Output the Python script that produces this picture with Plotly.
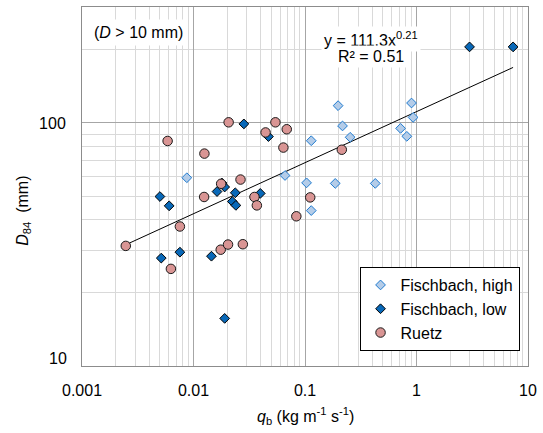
import plotly.graph_objects as go

# ---- data ----
fh_x = [0.00871, 0.0662, 0.1033, 0.1138, 0.1867, 0.4266, 0.1138, 0.198, 0.217, 0.254, 0.902, 0.932, 0.720, 0.819]
fh_y = [59.5, 60.8, 56.7, 43.6, 56.4, 56.4, 84.5, 117.8, 97.2, 87.3, 120.8, 105.4, 95.0, 88.1]

fl_x = [2.99, 7.35, 0.0283, 0.0470, 0.0050, 0.00605, 0.00755, 0.00514, 0.01449, 0.01904,
        0.01626, 0.01904, 0.0180, 0.0237, 0.0223, 0.0240, 0.0397]
fl_y = [205.6, 205.6, 99.1, 87.9, 49.8, 45.6, 29.4, 27.8, 28.3, 15.7,
        52.2, 54.5, 56.6, 51.6, 47.5, 45.8, 51.3]

ru_x = [0.00247, 0.00627, 0.00755, 0.00586, 0.01253, 0.01245, 0.0177, 0.0264, 0.01754, 0.0204,
        0.0277, 0.02066, 0.0543, 0.0443, 0.0686, 0.0640, 0.0352, 0.0370, 0.0836, 0.1114, 0.2138]
ru_y = [31.2, 25.1, 37.5, 84.3, 74.8, 49.6, 56.2, 58.5, 30.1, 31.6,
        31.7, 100.6, 100.6, 91.4, 94.2, 79.2, 49.6, 45.8, 41.3, 49.4, 77.6]

# power-law trend line y = a * x^b (from the chart's equation)
trend_a = 111.3
trend_b = 0.21

x_ticks = [0.001, 0.01, 0.1, 1, 10]
x_ticktext = ["0.001", "0.01", "0.1", "1", "10"]
y_ticks = [10, 100]
y_ticktext = ["10", "100"]

FONT = "Arial, 'Liberation Sans', sans-serif"
FS = 16

all_x = fh_x + fl_x + ru_x
tx = [min(all_x), max(all_x)]
ty = [trend_a * v ** trend_b for v in tx]

fig = go.Figure()
fig.add_trace(go.Scatter(x=tx, y=ty, mode="lines", line=dict(color="black", width=1),
                         showlegend=False, hoverinfo="skip"))
fig.add_trace(go.Scatter(x=fh_x, y=fh_y, mode="markers", name="Fischbach, high",
                         marker=dict(symbol="diamond", size=7.5, color="#B4CCE8",
                                     line=dict(color="#1F7BD0", width=1))))
fig.add_trace(go.Scatter(x=fl_x, y=fl_y, mode="markers", name="Fischbach, low",
                         marker=dict(symbol="diamond", size=7.5, color="#0868B8",
                                     line=dict(color="black", width=1))))
fig.add_trace(go.Scatter(x=ru_x, y=ru_y, mode="markers", name="Ruetz",
                         marker=dict(symbol="circle", size=9.5, color="#D99594",
                                     line=dict(color="#1a1a1a", width=1))))

axis_common = dict(
    type="log", showline=True, linecolor="#8C8C8C", linewidth=1, mirror=True,
    showgrid=True, gridcolor="#A6A6A6", gridwidth=1, zeroline=False,
    ticks="", tickfont=dict(family=FONT, size=FS, color="black"),
    minor=dict(showgrid=True, gridcolor="#D9D9D9", gridwidth=1, dtick="D1"),
)

# y tick labels: "100" as a normal tick label, "10" placed slightly above its gridline as in the reference
y_axis_text = [t if v != min(y_ticks) else "" for v, t in zip(y_ticks, y_ticktext)]

fig.update_xaxes(range=[-3, 1], tickmode="array", tickvals=x_ticks, ticktext=x_ticktext,
                 ticklabelstandoff=10, **axis_common)
fig.update_yaxes(range=[1, 2.4771], tickmode="array", tickvals=y_ticks, ticktext=y_axis_text,
                 ticklabelstandoff=12, **axis_common)

W, H = 543, 433
L, R, T, B = 82, 13, 6, 67
pw, ph = W - L - R, H - T - B

def px(x):
    return (x - L) / pw

def py(y):
    return (H - B - y) / ph

annos = [
    dict(text="(<i>D</i> &gt; 10 mm)", x=px(139), y=py(31.5), bgcolor="white", borderpad=4),
    dict(text="y = 111.3x<sup>0.21</sup>", x=px(372), y=py(38), bgcolor="white", borderpad=2),
    dict(text="R² = 0.51", x=px(372), y=py(56), bgcolor="white", borderpad=2),
]
for a in annos:
    fig.add_annotation(xref="paper", yref="paper", xanchor="center", yanchor="middle",
                       showarrow=False, font=dict(family=FONT, size=FS, color="black"), **a)

# lowest y tick label
import math
fig.add_annotation(xref="paper", yref="y", x=px(69), y=math.log10(min(y_ticks)), yshift=8,
                   xanchor="right", yanchor="middle", showarrow=False,
                   font=dict(family=FONT, size=FS, color="black"),
                   text=y_ticktext[y_ticks.index(min(y_ticks))])

fig.add_annotation(xref="paper", yref="paper", x=px(307), y=py(416), xanchor="center", yanchor="middle",
                   showarrow=False, font=dict(family=FONT, size=FS, color="black"),
                   text="<i>q</i><sub>b</sub> (kg m<sup>-1</sup> s<sup>-1</sup>)")
fig.add_annotation(xref="paper", yref="paper", x=px(23), y=py(210), xanchor="center", yanchor="middle",
                   showarrow=False, textangle=-90, font=dict(family=FONT, size=FS, color="black"),
                   text="<i>D</i><sub>84</sub>\u00a0\u00a0(mm)")

fig.update_layout(
    width=W, height=H, margin=dict(l=L, r=R, t=T, b=B),
    paper_bgcolor="white", plot_bgcolor="white",
    font=dict(family=FONT, size=FS, color="black"),
    legend=dict(x=px(521.5), y=py(351), xanchor="right", yanchor="bottom",
                bgcolor="white", bordercolor="black", borderwidth=1,
                font=dict(family=FONT, size=FS, color="black"),
                itemwidth=30, tracegroupgap=0),
    showlegend=True,
)

fig.write_html("out.html")
